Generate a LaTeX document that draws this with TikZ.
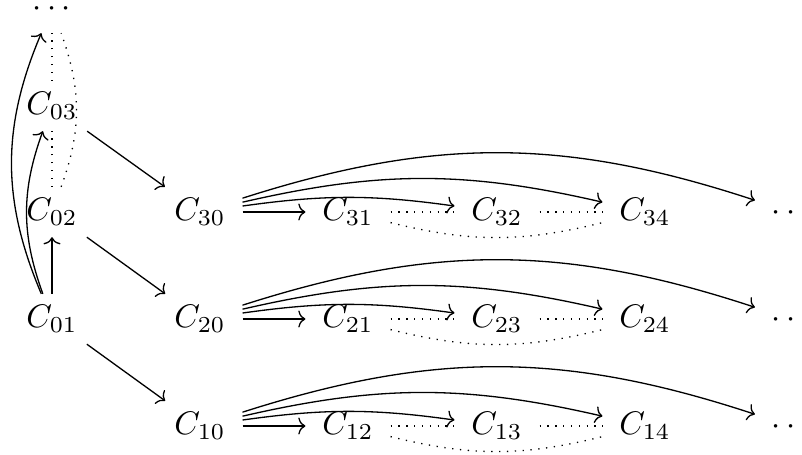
\documentclass[tikz,border=0pt]{standalone}
\usetikzlibrary{arrows.meta}
\begin{document}
\begin{tikzpicture}[x=0.3058pt,y=-0.3058pt,
  obj/.style={inner xsep=5pt, inner ysep=3pt, text height=7pt, text depth=2pt},
  arr/.style={-{Computer Modern Rightarrow[length=2.2pt,width=5.2pt]}},
  dotline/.style={dotted}]
\useasboundingbox (0,0) rectangle (802,455);
% column 0
\node[obj] (d0)  at (52,8)   {$\cdots$};
\node[obj] (c03) at (52,106) {$C_{03}$};
\node[obj] (c02) at (52,212) {$C_{02}$};
\node[obj] (c01) at (52,319) {$C_{01}$};
% row 3
\node[obj] (c30) at (200,212) {$C_{30}$};
\node[obj] (c31) at (348,212) {$C_{31}$};
\node[obj] (c32) at (497,212) {$C_{32}$};
\node[obj] (c34) at (645,212) {$C_{34}$};
\node[obj] (e3)  at (791,212) {$\cdots$};
% row 2
\node[obj] (c20) at (200,319) {$C_{20}$};
\node[obj] (c21) at (348,319) {$C_{21}$};
\node[obj] (c23) at (497,319) {$C_{23}$};
\node[obj] (c24) at (645,319) {$C_{24}$};
\node[obj] (e2)  at (791,319) {$\cdots$};
% row 1
\node[obj] (c10) at (200,426) {$C_{10}$};
\node[obj] (c12) at (348,426) {$C_{12}$};
\node[obj] (c13) at (497,426) {$C_{13}$};
\node[obj] (c14) at (645,426) {$C_{14}$};
\node[obj] (e1)  at (791,426) {$\cdots$};
% vertical column
\draw[arr] (c01) -- (c02);
\draw[arr] (c01) to[bend left=20] (c03);
\draw[arr] (c01) to[bend left=23] (d0);
\draw[dotline] (c02) -- (c03);
\draw[dotline] (c03) -- (d0);
\draw[dotline] (c02) to[bend right=20] (d0);
% diagonals
\draw[arr] (c03) -- (c30);
\draw[arr] (c02) -- (c20);
\draw[arr] (c01) -- (c10);
% rows
\foreach \s/\t/\u/\v/\w in {c30/c31/c32/c34/e3, c20/c21/c23/c24/e2, c10/c12/c13/c14/e1} {
  \draw[arr] (\s) -- (\t);
  \draw[arr] (\s) to[bend left=8] (\u);
  \draw[arr] (\s) to[bend left=13] (\v);
  \draw[arr] (\s) to[bend left=18] (\w);
  \draw[dotline] (\t) -- (\u);
  \draw[dotline] (\u) -- (\v);
  \draw[dotline] (\t) to[bend right=14] (\v);
}
\end{tikzpicture}
\end{document}
